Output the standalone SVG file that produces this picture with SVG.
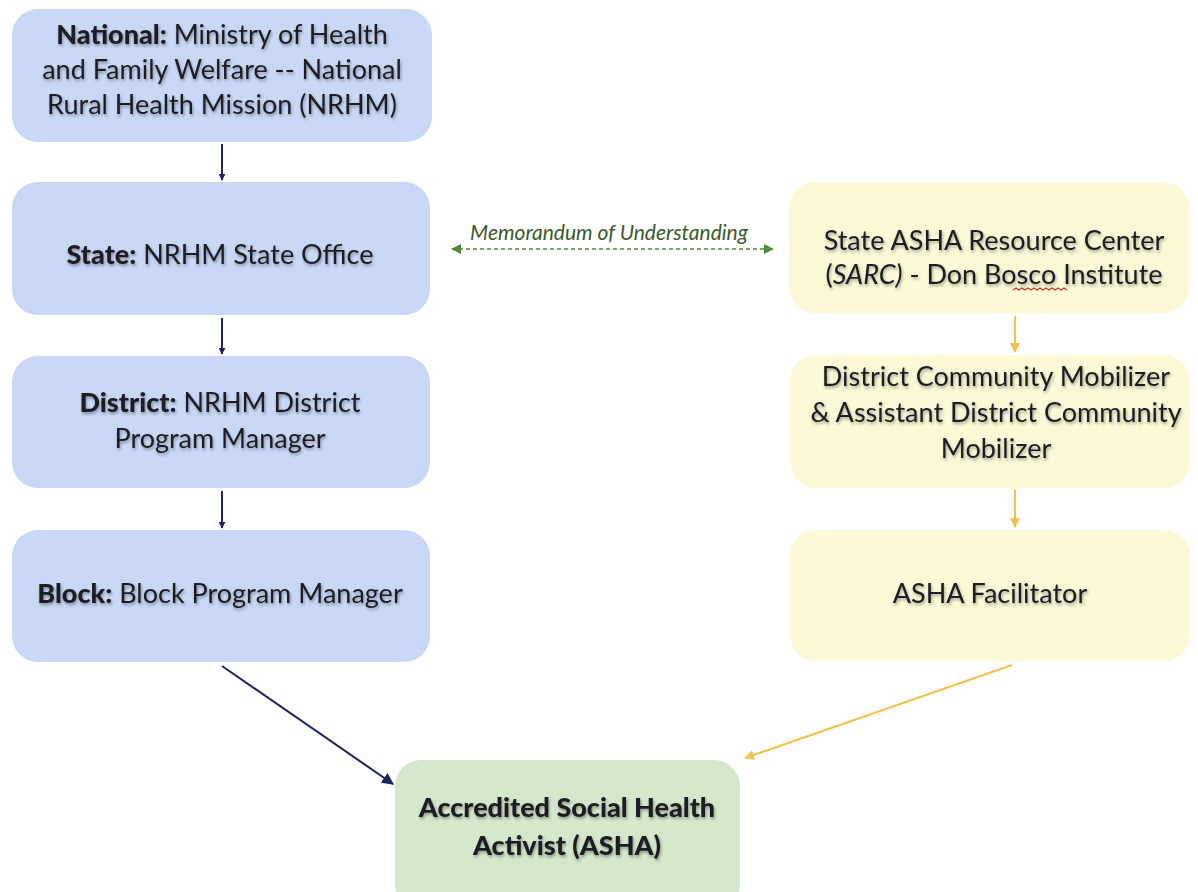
<svg xmlns="http://www.w3.org/2000/svg" width="1198" height="892" viewBox="0 0 1198 892">
  <style>
    .box { stroke: none; }
    .blue { fill: #c8d8f6; }
    .yellow { fill: #fbf9d6; }
    .green { fill: #d5e8cb; }
    text { font-family: "Lato", "Open Sans", "Liberation Sans", sans-serif; fill: #1c1c24; text-anchor: middle; }
    .t { font-size: 27px; filter: url(#tshadow); }
    .big { font-size: 27px; font-weight: 900; filter: url(#tshadow); }
    .b { font-weight: 900; }
    .mou { font-size: 21px; font-style: italic; fill: #3b5a2a; }
    .navy { stroke: #1d2560; stroke-width: 2; fill: none; }
    .gold { stroke: #f2c04d; stroke-width: 2; fill: none; }
  </style>
  <defs>
    <filter id="tshadow" x="-10%" y="-30%" width="120%" height="160%">
      <feDropShadow dx="1" dy="2" stdDeviation="1.5" flood-color="#000" flood-opacity="0.35"/>
    </filter>
    <marker id="ahNavy" viewBox="0 0 10 10" refX="9" refY="5" markerWidth="7" markerHeight="7" orient="auto" markerUnits="userSpaceOnUse">
      <path d="M0,0 L10,5 L0,10 z" fill="#1d2560"/>
    </marker>
    <marker id="ahNavyL" viewBox="0 0 10 10" refX="9" refY="5" markerWidth="12" markerHeight="12" orient="auto" markerUnits="userSpaceOnUse">
      <path d="M0,0 L10,5 L0,10 z" fill="#1d2560"/>
    </marker>
    <marker id="ahGold" viewBox="0 0 10 10" refX="9" refY="5" markerWidth="10" markerHeight="10" orient="auto" markerUnits="userSpaceOnUse">
      <path d="M0,0 L10,5 L0,10 z" fill="#f2c04d"/>
    </marker>
    <marker id="ahGreen" viewBox="0 0 10 10" refX="9" refY="5" markerWidth="10" markerHeight="10" orient="auto-start-reverse" markerUnits="userSpaceOnUse">
      <path d="M0,0 L10,5 L0,10 z" fill="#4f8a3a"/>
    </marker>
  </defs>

  <rect width="1198" height="892" fill="#ffffff"/>

  <!-- connectors -->
  <g id="connectors">
    <line class="navy" x1="222" y1="144" x2="222" y2="180" marker-end="url(#ahNavy)"/>
    <line class="navy" x1="222" y1="318" x2="222" y2="354" marker-end="url(#ahNavy)"/>
    <line class="navy" x1="222" y1="491" x2="222" y2="528" marker-end="url(#ahNavy)"/>
    <line class="navy" x1="222" y1="666" x2="393" y2="784" marker-end="url(#ahNavyL)"/>
    <line class="gold" x1="1015" y1="316" x2="1015" y2="352" marker-end="url(#ahGold)"/>
    <line class="gold" x1="1015" y1="490" x2="1015" y2="527" marker-end="url(#ahGold)"/>
    <line class="gold" x1="1012" y1="665" x2="745" y2="758" marker-end="url(#ahGold)"/>
    <line x1="452" y1="249" x2="773" y2="249" stroke="#4f8a3a" stroke-width="1.6" stroke-dasharray="4,3" marker-start="url(#ahGreen)" marker-end="url(#ahGreen)"/>
    <text class="mou" x="609" y="240">Memorandum of Understanding</text>
  </g>

  <!-- government side -->
  <g id="national">
    <rect class="box blue" x="12" y="9" width="420" height="133" rx="26"/>
    <text class="t" x="222" y="44"><tspan class="b">National:</tspan> Ministry of Health</text>
    <text class="t" x="222" y="79">and Family Welfare -- National</text>
    <text class="t" x="222" y="114">Rural Health Mission (NRHM)</text>
  </g>
  <g id="state">
    <rect class="box blue" x="12" y="182" width="418" height="133" rx="26"/>
    <text class="t" x="220" y="264"><tspan class="b">State:</tspan> NRHM State Office</text>
  </g>
  <g id="district">
    <rect class="box blue" x="12" y="356" width="418" height="132" rx="26"/>
    <text class="t" x="220" y="412"><tspan class="b">District:</tspan> NRHM District</text>
    <text class="t" x="220" y="448">Program Manager</text>
  </g>
  <g id="block">
    <rect class="box blue" x="12" y="530" width="418" height="132" rx="26"/>
    <text class="t" x="220" y="603"><tspan class="b">Block:</tspan> Block Program Manager</text>
  </g>

  <!-- resource centre side -->
  <g id="sarc">
    <rect class="box yellow" x="789" y="182" width="400" height="131" rx="26"/>
    <text class="t" x="994" y="250">State ASHA Resource Center</text>
    <text class="t" x="994" y="284">(<tspan font-style="italic">SARC)</tspan> - Don Bosco Institute</text>
    <path d="M1013,290 l3,-2 3,2 3,-2 3,2 3,-2 3,2 3,-2 3,2 3,-2 3,2 3,-2 3,2 3,-2 3,2 3,-2 3,2 3,-2 3,2" stroke="#c0392b" stroke-width="1.2" fill="none"/>
  </g>
  <g id="mobilizer">
    <rect class="box yellow" x="790" y="355" width="400" height="133" rx="26"/>
    <text class="t" x="996" y="386">District Community Mobilizer</text>
    <text class="t" x="996" y="422">&amp; Assistant District Community</text>
    <text class="t" x="996" y="458">Mobilizer</text>
  </g>
  <g id="facilitator">
    <rect class="box yellow" x="790" y="530" width="400" height="131" rx="26"/>
    <text class="t" x="990" y="603">ASHA Facilitator</text>
  </g>

  <!-- shared outcome -->
  <g id="asha">
    <rect class="box green" x="395" y="760" width="345" height="150" rx="26"/>
    <text class="big" x="567" y="817">Accredited Social Health</text>
    <text class="big" x="567" y="855">Activist (ASHA)</text>
  </g>
</svg>
